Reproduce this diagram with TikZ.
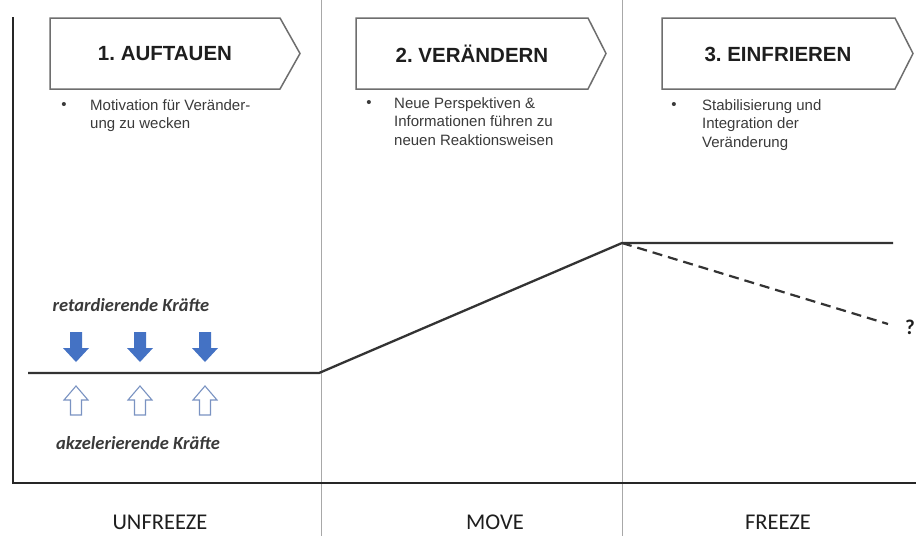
\documentclass[tikz,border=0pt]{standalone}
\usepackage{fontspec}
\setmainfont{Liberation Sans}
\newfontfamily\calib{Carlito}
\frenchspacing
\definecolor{boxline}{HTML}{6E6E6E}
\definecolor{divline}{HTML}{A8A8A8}
\definecolor{txt}{HTML}{1E1E1E}
\definecolor{bodytxt}{HTML}{3A3A3A}
\definecolor{darrow}{HTML}{4472C4}
\definecolor{uarrow}{HTML}{7A93C2}
\begin{document}
\begin{tikzpicture}[x=1pt,y=-1pt,
  stagebox/.style={draw=boxline,line width=1.5pt,fill=white,line join=miter},
  title/.style={font=\fontsize{20.5}{24}\selectfont\bfseries\frenchspacing,text=txt,inner sep=0pt},
  bodytext/.style={font=\fontsize{15}{18.5}\selectfont,text=bodytxt,inner sep=0pt,anchor=north west,align=left},
  bullet/.style={font=\fontsize{15}{18}\selectfont,text=bodytxt,inner sep=0pt},
  force/.style={font=\calib\fontsize{18.5}{22}\selectfont\itshape\bfseries,text=bodytxt,inner sep=0pt},
  phase/.style={font=\calib\fontsize{22.5}{26}\selectfont,text=txt,inner sep=0pt},
  axis/.style={line width=2.6pt,draw=black!85},
  divider/.style={line width=0.8pt,draw=divline},
  curve/.style={line width=2.3pt,draw=black!80},
  downarr/.pic={\fill[darrow] (-6,0) -- (6,0) -- (6,16) -- (13,16) -- (0,30) -- (-13,16) -- (-6,16) -- cycle;},
  uparr/.pic={\draw[uarrow,line width=1.1pt,fill=white,line join=miter] (0,0) -- (12,14) -- (5.5,14) -- (5.5,29) -- (-5.5,29) -- (-5.5,14) -- (-12,14) -- cycle;}
]
\useasboundingbox (0,0) rectangle (916,536);
\fill[white] (0,0) rectangle (916,536);

% dividers
\coordinate (d1t) at (321,0); \coordinate (d1b) at (321,536);
\coordinate (d2t) at (622,0); \coordinate (d2b) at (622,536);
\draw[divider] (d1t) -- (d1b);
\draw[divider] (d2t) -- (d2b);

% axes
\coordinate (ytop) at (13,17);
\coordinate (orig) at (13,483);
\coordinate (xend) at (916,483);
\draw[axis] (ytop) -- (orig) -- (xend);

% stage boxes
\draw[stagebox] (50,18) -- (280,18) -- (300,53.5) -- (280,89) -- (50,89) -- cycle;
\draw[stagebox] (356,18) -- (588,18) -- (606,53.5) -- (588,89) -- (356,89) -- cycle;
\draw[stagebox] (662,18) -- (895,18) -- (913,53.5) -- (895,89) -- (662,89) -- cycle;
\node[title] (t1) at (165,54) {1. AUFTAUEN};
\node[title] (t2) at (472,54) {2. VERÄNDERN};
\node[title] (t3) at (778,54) {3. EINFRIEREN};

% bullet texts
\node[bullet] (b1) at (64,106) {•};
\node[bodytext] (x1) at (90,99) {Motivation für Veränder-\\ung zu wecken};
\node[bullet] (b2) at (369,104) {•};
\node[bodytext] (x2) at (394,97) {Neue Perspektiven \&\\Informationen führen zu\\neuen Reaktionsweisen};
\node[bullet] (b3) at (674,106) {•};
\node[bodytext] (x3) at (702,99) {Stabilisierung und\\Integration der\\Veränderung};

% level curve
\coordinate (l0) at (28,373);
\coordinate (l1) at (319,373);
\coordinate (l2) at (622,243);
\coordinate (l3) at (893,243);
\coordinate (l4) at (888,324);
\draw[curve] (l0) -- (l1) -- (l2) -- (l3);
\draw[curve,dash pattern=on 10pt off 6pt,line width=2.2pt] (l2) -- (l4);
\node[font=\calib\fontsize{21}{24}\selectfont\bfseries,text=txt,inner sep=0pt] (q) at (910,327) {?};

% forces
\node[force] (ret) at (131,305) {retardierende Kräfte};
\node[force] (akz) at (138,443) {akzelerierende Kräfte};
\pic (da1) at (76,332) {downarr};
\pic (da2) at (140,332) {downarr};
\pic (da3) at (205,332) {downarr};
\pic (ua1) at (76,386) {uparr};
\pic (ua2) at (140,386) {uparr};
\pic (ua3) at (205,386) {uparr};

% phases
\node[phase] (p1) at (160,522) {UNFREEZE};
\node[phase] (p2) at (495,522) {MOVE};
\node[phase] (p3) at (778,522) {FREEZE};
\end{tikzpicture}
\end{document}
